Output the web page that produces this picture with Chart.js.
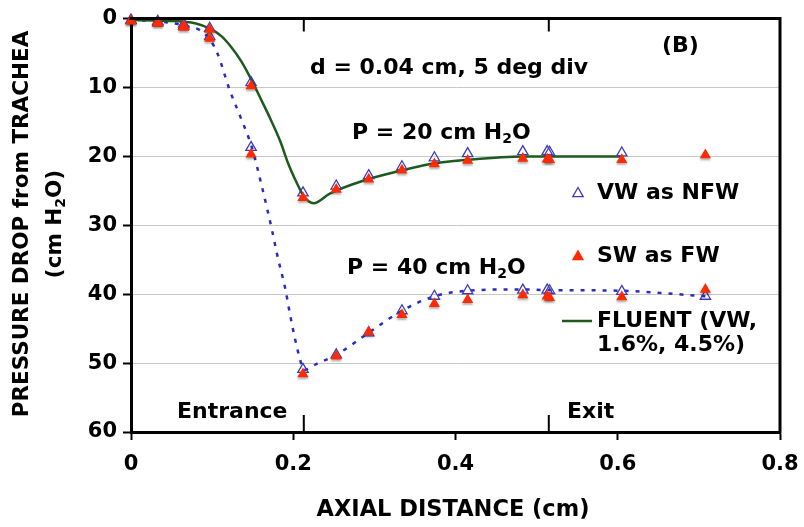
<!DOCTYPE html>
<html>
<head>
<meta charset="utf-8">
<script src="https://cdn.jsdelivr.net/npm/chart.js@4"></script>
<style>
  html, body { margin: 0; padding: 0; background: #fff; }
  #wrap { width: 804px; height: 527px; }
</style>
</head>
<body>
<div id="wrap"><canvas id="dropChart" width="804" height="527"></canvas></div>
<script>
// axial positions of the measured points (cm)
const axialPos = [0, 0.033, 0.065, 0.097, 0.148, 0.212, 0.253, 0.293, 0.334, 0.374, 0.415, 0.483, 0.513, 0.516, 0.605, 0.708];

// pressure drop (cm H2O), P = 20 and P = 40
const vw20 = [0.2, 0.4, 0.8, 1.4, 9.3, 25.3, 24.3, 22.8, 21.5, 20.2, 19.6, 19.3, 19.3, 19.4, 19.5, null];
const sw20 = [0.3, 0.5, 1.0, 1.6, 9.8, 26.0, 24.8, 23.3, 22.0, 21.1, 20.6, 20.3, 20.4, 20.5, 20.5, 19.8];
const vw40 = [0.3, 0.6, 1.1, 2.6, 18.7, 50.9, 48.8, 45.6, 42.4, 40.3, 39.5, 39.4, 39.4, 39.5, 39.6, 40.3];
const sw40 = [0.4, 0.7, 1.3, 2.9, 19.7, 51.6, 49.0, 45.5, 43.0, 41.4, 40.8, 40.1, 40.3, 40.5, 40.4, 39.3];

// FLUENT curve, P = 20
const fluentX = [0, 0.04, 0.08, 0.098, 0.111, 0.122, 0.136, 0.149, 0.161, 0.172, 0.184, 0.194, 0.205, 0.213, 0.225, 0.245, 0.287, 0.328, 0.369, 0.414, 0.483, 0.605];
const fluentY = [0.2, 0.3, 0.7, 1.5, 2.5, 3.9, 6.2, 9.0, 11.9, 14.6, 17.8, 21.1, 24.0, 25.8, 26.8, 25.4, 23.5, 22.2, 21.1, 20.5, 20.0, 20.0];

// dotted curve, P = 40
const dotX = [0, 0.033, 0.065, 0.091, 0.106, 0.122, 0.135, 0.149, 0.162, 0.174, 0.181, 0.19, 0.196, 0.202, 0.208, 0.213, 0.229, 0.253, 0.293, 0.334, 0.374, 0.415, 0.483, 0.513, 0.605, 0.708];
const dotY = [0.2, 0.4, 1.0, 2.2, 4.9, 10.5, 14.3, 18.7, 24.7, 30.8, 34.7, 39.1, 42.9, 46.4, 49.3, 51.0, 50.1, 48.8, 45.6, 42.4, 40.3, 39.5, 39.3, 39.4, 39.5, 40.3];

const xTicks = [0, 0.2, 0.4, 0.6, 0.8];
const entranceX = 0.213;
const exitX = 0.515;

const RED = '#ff2a00';
const BLUE = '#3c3cb8';
const GREEN = '#1d5a1d';
const FS = 22;

function bold(size) {
  return 'bold ' + size + 'px "DejaVu Sans"';
}

function toPoints(xs, ys) {
  return xs.map((x, i) => ({ x: x, y: ys[i] }));
}

// draw text with optional subscript pieces
function drawParts(ctx, parts, x, y, size) {
  ctx.textBaseline = 'middle';
  ctx.textAlign = 'left';
  let cx = x;
  parts.forEach(p => {
    const sub = p[1];
    ctx.font = bold(sub ? Math.round(size * 0.65) : size);
    ctx.fillText(p[0], cx, sub ? y + size * 0.28 : y);
    cx += ctx.measureText(p[0]).width;
  });
}

function partsWidth(ctx, parts, size) {
  let w = 0;
  parts.forEach(p => {
    ctx.font = bold(p[1] ? Math.round(size * 0.65) : size);
    w += ctx.measureText(p[0]).width;
  });
  return w;
}

function triangle(ctx, x, y, r, fill) {
  ctx.beginPath();
  ctx.moveTo(x, y - r);
  ctx.lineTo(x + r * 0.95, y + r * 0.65);
  ctx.lineTo(x - r * 0.95, y + r * 0.65);
  ctx.closePath();
  if (fill) {
    ctx.fillStyle = RED;
    ctx.fill();
  } else {
    ctx.strokeStyle = BLUE;
    ctx.lineWidth = 1.3;
    ctx.stroke();
  }
}

// soft grey drop shadow under the red markers
const shadowPlugin = {
  id: 'shadow',
  beforeDatasetDraw(chart, args) {
    if (args.index !== 0) return;
    const ctx = chart.ctx;
    ctx.save();
    ctx.shadowColor = 'rgba(0,0,0,0.3)';
    ctx.shadowBlur = 2;
    ctx.shadowOffsetY = 2;
  },
  afterDatasetDraw(chart, args) {
    if (args.index !== 0) return;
    chart.ctx.restore();
  }
};

const framePlugin = {
  id: 'frame',
  afterDraw(chart) {
    const ctx = chart.ctx;
    const a = chart.chartArea;
    const xs = chart.scales.x;
    ctx.save();
    ctx.strokeStyle = '#000';
    ctx.lineWidth = 3;
    ctx.beginPath();
    ctx.moveTo(a.left - 1.5, a.top);
    ctx.lineTo(a.right, a.top);
    ctx.lineTo(a.right, a.bottom + 1.5);
    ctx.stroke();

    // entrance / exit marks
    ctx.lineWidth = 2;
    [entranceX, exitX].forEach(v => {
      const px = xs.getPixelForValue(v);
      ctx.beginPath();
      ctx.moveTo(px, a.top);
      ctx.lineTo(px, a.top + 13);
      ctx.moveTo(px, a.bottom);
      ctx.lineTo(px, a.bottom - 17);
      ctx.stroke();
    });

    ctx.fillStyle = '#000';
    drawParts(ctx, [['(B)', false]], 662, 46, FS);
    drawParts(ctx, [['d = 0.04 cm, 5 deg div', false]], 310, 68, FS);
    drawParts(ctx, [['P = 20 cm H', false], ['2', true], ['O', false]], 352, 133, FS);
    drawParts(ctx, [['P = 40 cm H', false], ['2', true], ['O', false]], 347, 268, FS);
    drawParts(ctx, [['Entrance', false]], 177, 412, FS);
    drawParts(ctx, [['Exit', false]], 567, 412, FS);

    // legend
    triangle(ctx, 578, 193, 5.5, false);
    triangle(ctx, 578, 256, 6.5, true);
    ctx.strokeStyle = GREEN;
    ctx.lineWidth = 2.5;
    ctx.beginPath();
    ctx.moveTo(562, 321);
    ctx.lineTo(592, 321);
    ctx.stroke();
    ctx.fillStyle = '#000';
    drawParts(ctx, [['VW as NFW', false]], 597, 193, FS);
    drawParts(ctx, [['SW as FW', false]], 597, 256, FS);
    drawParts(ctx, [['FLUENT (VW,', false]], 597, 321, FS);
    drawParts(ctx, [['1.6%, 4.5%)', false]], 597, 345, FS);

    // axis titles
    const xt = [['AXIAL DISTANCE (cm)', false]];
    drawParts(ctx, xt, 453 - partsWidth(ctx, xt, 22.5) / 2, 510, 22.5);

    ctx.save();
    ctx.translate(22, 224);
    ctx.rotate(-Math.PI / 2);
    const yt1 = [['PRESSURE DROP from TRACHEA', false]];
    drawParts(ctx, yt1, -partsWidth(ctx, yt1, 21.5) / 2, 0, 21.5);
    const yt2 = [['(cm H', false], ['2', true], ['O)', false]];
    drawParts(ctx, yt2, -partsWidth(ctx, yt2, 21.5) / 2, 33, 21.5);
    ctx.restore();

    ctx.restore();
  }
};

function createChart() {
  const ctx = document.getElementById('dropChart').getContext('2d');
  return new Chart(ctx, {
    type: 'scatter',
    data: {
      datasets: [
        {
          label: 'SW as FW',
          data: toPoints(axialPos, sw20).concat(toPoints(axialPos, sw40)),
          pointStyle: 'triangle',
          pointRadius: 6.5,
          backgroundColor: RED,
          borderColor: RED,
          borderWidth: 0,
          clip: false,
          order: 0
        },
        {
          label: 'VW as NFW',
          data: toPoints(axialPos, vw20).concat(toPoints(axialPos, vw40)),
          pointStyle: 'triangle',
          pointRadius: 6,
          backgroundColor: 'rgba(0,0,0,0)',
          borderColor: BLUE,
          borderWidth: 1.3,
          clip: false,
          order: 1
        },
        {
          label: 'FLUENT (VW, 1.6%, 4.5%)',
          type: 'line',
          data: toPoints(fluentX, fluentY),
          borderColor: GREEN,
          borderWidth: 2.5,
          pointRadius: 0,
          cubicInterpolationMode: 'monotone',
          fill: false,
          clip: false,
          order: 2
        },
        {
          label: 'P40 curve',
          type: 'line',
          data: toPoints(dotX, dotY),
          borderColor: '#2a2ac4',
          borderWidth: 2.5,
          borderDash: [4, 7],
          pointRadius: 0,
          cubicInterpolationMode: 'monotone',
          fill: false,
          clip: false,
          order: 3
        }
      ]
    },
    options: {
      responsive: false,
      animation: false,
      layout: { padding: { top: 18, right: 24, left: 0, bottom: 0 } },
      plugins: {
        legend: { display: false },
        tooltip: { enabled: false }
      },
      scales: {
        x: {
          type: 'linear',
          min: 0,
          max: 0.8,
          afterBuildTicks: scale => {
            scale.ticks = xTicks.map(v => ({ value: v }));
          },
          afterFit: scale => {
            scale.height = 95;
            scale.paddingLeft = 0;
            scale.paddingRight = 0;
          },
          border: { color: '#000', width: 3 },
          grid: { drawOnChartArea: false, tickLength: 8, tickColor: '#000', tickWidth: 2 },
          ticks: {
            color: '#000',
            font: { family: 'DejaVu Sans', weight: 'bold', size: 21 },
            padding: 12,
            maxRotation: 0,
            callback: v => v === 0 ? '0' : v.toFixed(1)
          }
        },
        y: {
          type: 'linear',
          reverse: true,
          min: 0,
          max: 60,
          afterFit: scale => { scale.width = 131; },
          border: { color: '#000', width: 3 },
          grid: { color: '#c8c8c8', lineWidth: 1, tickLength: 8, tickColor: '#000', tickWidth: 2 },
          ticks: {
            stepSize: 10,
            color: '#000',
            font: { family: 'DejaVu Sans', weight: 'bold', size: 21 },
            padding: 6
          }
        }
      }
    },
    plugins: [shadowPlugin, framePlugin]
  });
}

createChart();
</script>
</body>
</html>
